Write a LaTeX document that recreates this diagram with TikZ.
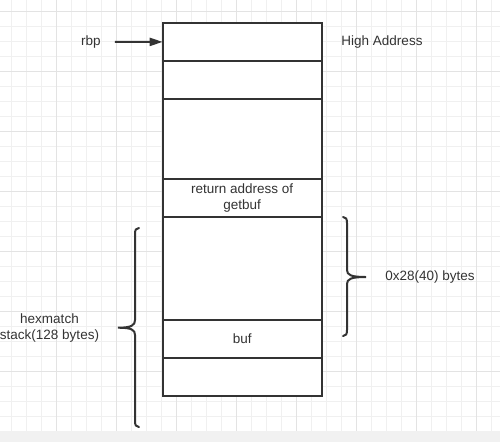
\documentclass[tikz,border=0pt]{standalone}
\usepackage{fontspec}
\setmainfont{Liberation Sans}
\usetikzlibrary{arrows.meta,positioning}
\definecolor{ink}{HTML}{333333}
\definecolor{gridminor}{HTML}{F0F0F0}
\definecolor{gridmajor}{HTML}{E3E3E3}
\definecolor{band}{HTML}{F1F1F1}

\begin{document}
\begin{tikzpicture}[
    x=1pt, y=-1pt,
    font=\fontsize{13.5}{16}\selectfont,
    node distance=0pt,
    cell/.style={rectangle, draw=ink, line width=2pt, fill=white,
                 minimum width=159pt, minimum height=#1, outer sep=0pt,
                 inner sep=0pt, align=center, text=ink},
    note/.style={text=ink, align=center, inner sep=2pt},
    ptr/.style={-{Triangle[length=13pt,width=8pt]}, line width=2pt, draw=ink},
    brace/.style={line width=2pt, draw=ink, line cap=round}
]
\useasboundingbox (0,0) rectangle (500,442);

% background grid
\foreach \gx in {0,...,32}
    \draw[gridminor, line width=1pt] (11.7+15*\gx,0) -- (11.7+15*\gx,431);
\foreach \gy in {0,...,27}
    \draw[gridminor, line width=1pt] (0,11.7+15*\gy) -- (500,11.7+15*\gy);
\foreach \gx in {0,...,7}
    \draw[gridmajor, line width=1pt] (56.7+60*\gx,0) -- (56.7+60*\gx,431);
\foreach \gy in {0,...,6}
    \draw[gridmajor, line width=1pt] (0,11.7+60*\gy) -- (500,11.7+60*\gy);
\fill[band] (0,431) rectangle (500,442);

% stack frame cells, top to bottom
\node[cell=38pt] (c1) at (242.2,41.8) {};
\node[cell=38pt, below=of c1] (c2) {};
\node[cell=80pt, below=of c2] (c3) {};
\node[cell=38pt, below=of c3] (c4) {return address of\\getbuf};
\node[cell=103pt, below=of c4] (c5) {};
\node[cell=38pt, below=of c5] (c6) {buf};
\node[cell=38pt, below=of c6] (c7) {};

% labels
\node[note] (rbp) at (91,42) {rbp};
\node[note] (high) at (382,42) {High Address};
\node[note] (gap) at (430,277) {0x28(40) bytes};
\node[note] (frame) at (49.5,328) {hexmatch\\stack(128 bytes)};

% rbp pointer
\draw[ptr, shorten <=12pt] (rbp) -- (c1);

% braces
\draw[brace] (343,217) .. controls (346,217) and (347,219) .. (347,223)
    -- (347,270) .. controls (347,275) and (351,277) .. (366,277)
    .. controls (351,277) and (347,279) .. (347,284)
    -- (347,330) .. controls (347,334) and (346,336) .. (343,336);
\draw[brace] (139,228) .. controls (136,228) and (135,230) .. (135,234)
    -- (135,320) .. controls (135,325) and (132,327.7) .. (118,327.7)
    .. controls (132,327.7) and (135,330) .. (135,335)
    -- (135,421) .. controls (135,425) and (136,427) .. (139,427);

\end{tikzpicture}
\end{document}
